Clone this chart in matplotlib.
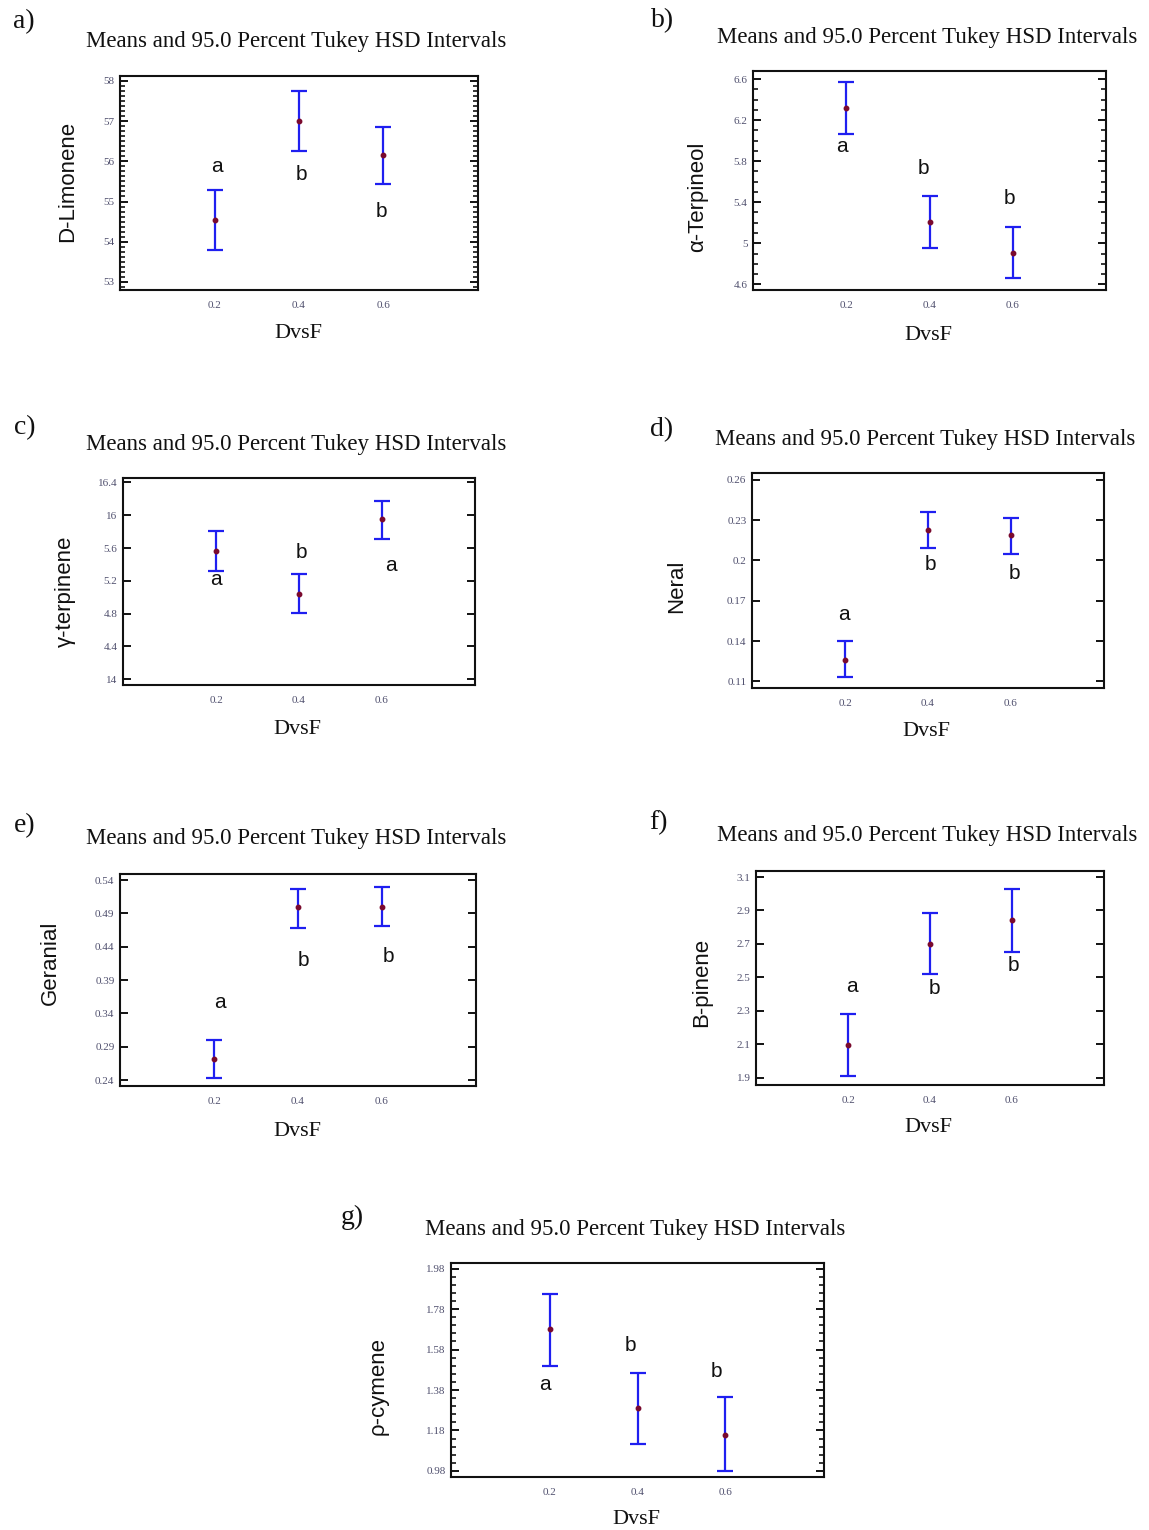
import numpy as np
import matplotlib
matplotlib.use("Agg")
import matplotlib.pyplot as plt
from matplotlib.ticker import FixedLocator, AutoMinorLocator

# ── Means and Tukey HSD interval limits per compound ─────────────────────
DVSF = [0.2, 0.4, 0.6]

limonene_mean = [54.54, 57.00, 56.16]
limonene_low  = [53.80, 56.26, 55.43]
limonene_high = [55.28, 57.74, 56.86]

terpineol_mean = [6.315, 5.205, 4.903]
terpineol_low  = [6.062, 4.951, 4.658]
terpineol_high = [6.574, 5.461, 5.162]

terpinene_mean = [15.56, 15.04, 15.955]
terpinene_low  = [15.317, 14.809, 15.711]
terpinene_high = [15.805, 15.289, 16.171]

neral_mean = [0.1259, 0.2226, 0.2186]
neral_low  = [0.1130, 0.2094, 0.2047]
neral_high = [0.1398, 0.2362, 0.2315]

geranial_mean = [0.271, 0.499, 0.4995]
geranial_low  = [0.2425, 0.468, 0.4705]
geranial_high = [0.300, 0.527, 0.529]

pinene_mean = [2.095, 2.702, 2.841]
pinene_low  = [1.910, 2.519, 2.649]
pinene_high = [2.278, 2.887, 3.030]

cymene_mean = [1.6825, 1.292, 1.160]
cymene_low  = [1.5006, 1.111, 0.980]
cymene_high = [1.856, 1.466, 1.347]

# Tukey grouping letters and where they sit (data coords)
limonene_letters  = [("a", 0.204, 55.87), ("b", 0.405, 55.68), ("b", 0.595, 54.76)]
terpineol_letters = [("a", 0.190, 5.94), ("b", 0.386, 5.73), ("b", 0.593, 5.44)]
terpinene_letters = [("a", 0.200, 15.22), ("b", 0.405, 15.54), ("a", 0.621, 15.39)]
neral_letters     = [("a", 0.196, 0.160), ("b", 0.407, 0.1973), ("b", 0.608, 0.190)]
geranial_letters  = [("a", 0.213, 0.356), ("b", 0.414, 0.420), ("b", 0.615, 0.426)]
pinene_letters    = [("a", 0.210, 2.443), ("b", 0.410, 2.434), ("b", 0.604, 2.573)]
cymene_letters    = [("a", 0.189, 1.408), ("b", 0.385, 1.600), ("b", 0.580, 1.471)]

# y tick values and their printed labels
limonene_ticks  = [53, 54, 55, 56, 57, 58]
terpineol_ticks = [4.6, 5.0, 5.4, 5.8, 6.2, 6.6]
terpinene_ticks = [14.0, 14.4, 14.8, 15.2, 15.6, 16.0, 16.4]
terpinene_tick_labels = ["14", "4.4", "4.8", "5.2", "5.6", "16", "16.4"]
neral_ticks     = [0.11, 0.14, 0.17, 0.20, 0.23, 0.26]
geranial_ticks  = [0.24, 0.29, 0.34, 0.39, 0.44, 0.49, 0.54]
pinene_ticks    = [1.9, 2.1, 2.3, 2.5, 2.7, 2.9, 3.1]
cymene_ticks    = [0.98, 1.18, 1.38, 1.58, 1.78, 1.98]

TITLE = "Means and 95.0 Percent Tukey HSD Intervals"

W, H = 1149, 1530
fig = plt.figure(figsize=(W / 100, H / 100), dpi=100)
fig.patch.set_facecolor("white")

SERIF = "Liberation Serif"
SANS = "Liberation Sans"
BAR_COLOR = "#1f1ff0"
DOT_COLOR = "#7a0a2e"
TICK_COLOR = "#50506e"


def fx(x):
    return x / W


def fy(y):
    return 1 - y / H


# panel layout in pixels: box (L, R, T, B), ylim, ylabel anchor, title/label spots
panels = [
    dict(tag="a)", tag_xy=(24, 22), box=(120, 478, 76, 290), ylim=(52.80, 58.12),
         ylabel="D-Limonene", ylab_xy=(78, 181), title_xy=(296, 42), xlab_xy=(298, 333),
         mean=limonene_mean, low=limonene_low, high=limonene_high,
         letters=limonene_letters, ticks=limonene_ticks, labels=None, minor=8),
    dict(tag="b)", tag_xy=(663, 21), box=(753, 1106, 71, 290), ylim=(4.545, 6.678),
         ylabel="α-Terpineol", ylab_xy=(708, 197), title_xy=(927, 38), xlab_xy=(928, 335),
         mean=terpineol_mean, low=terpineol_low, high=terpineol_high,
         letters=terpineol_letters, ticks=terpineol_ticks, labels=["4.6", "5", "5.4", "5.8", "6.2", "6.6"],
         minor=4),
    dict(tag="c)", tag_xy=(25, 428), box=(123, 475, 478, 685), ylim=(13.93, 16.454),
         ylabel="γ-terpinene", ylab_xy=(76, 591), title_xy=(296, 444), xlab_xy=(297, 729),
         mean=terpinene_mean, low=terpinene_low, high=terpinene_high,
         letters=terpinene_letters, ticks=terpinene_ticks, labels=terpinene_tick_labels, minor=None),
    dict(tag="d)", tag_xy=(662, 430), box=(752, 1104, 473, 688), ylim=(0.1051, 0.265),
         ylabel="Neral", ylab_xy=(687, 586), title_xy=(925, 440), xlab_xy=(926, 731),
         mean=neral_mean, low=neral_low, high=neral_high,
         letters=neral_letters, ticks=neral_ticks, labels=["0.11", "0.14", "0.17", "0.2", "0.23", "0.26"],
         minor=None),
    dict(tag="e)", tag_xy=(25, 826), box=(120, 476, 874, 1086), ylim=(0.231, 0.549),
         ylabel="Geranial", ylab_xy=(61, 963), title_xy=(296, 838), xlab_xy=(297, 1131),
         mean=geranial_mean, low=geranial_low, high=geranial_high,
         letters=geranial_letters, ticks=geranial_ticks, labels=None, minor=None),
    dict(tag="f)", tag_xy=(658, 823), box=(756, 1104, 871, 1085), ylim=(1.856, 3.136),
         ylabel="B-pinene", ylab_xy=(712, 982), title_xy=(927, 836), xlab_xy=(928, 1127),
         mean=pinene_mean, low=pinene_low, high=pinene_high,
         letters=pinene_letters, ticks=pinene_ticks, labels=None, minor=None),
    dict(tag="g)", tag_xy=(352, 1217), box=(451, 824, 1263, 1477), ylim=(0.950, 2.008),
         ylabel="ρ-cymene", ylab_xy=(389, 1386), title_xy=(635, 1230), xlab_xy=(636, 1519),
         mean=cymene_mean, low=cymene_low, high=cymene_high,
         letters=cymene_letters, ticks=cymene_ticks, labels=None, minor=5),
]

for p in panels:
    L, R, T, B = p["box"]
    ax = fig.add_axes([fx(L), fy(B), (R - L) / W, (B - T) / H])

    mean = np.array(p["mean"])
    yerr = np.vstack([mean - np.array(p["low"]), np.array(p["high"]) - mean])
    ax.errorbar(DVSF, mean, yerr=yerr, fmt="none", ecolor=BAR_COLOR,
                elinewidth=1.6, capsize=5.5, capthick=1.6, zorder=2)
    ax.plot(DVSF, mean, "o", color=DOT_COLOR, markersize=3.2, zorder=3)

    for txt, x, y in p["letters"]:
        ax.text(x, y, txt, ha="center", va="center", fontsize=15,
                family=SANS, color="#111111")

    ax.set_xlim(-0.025, 0.825)
    ax.set_ylim(*p["ylim"])
    ax.set_xticks(DVSF)
    ax.set_xticklabels(["0.2", "0.4", "0.6"])
    ax.yaxis.set_major_locator(FixedLocator(p["ticks"]))
    if p["labels"] is not None:
        ax.set_yticklabels(p["labels"])
    else:
        ax.set_yticklabels([f"{t:g}" for t in p["ticks"]])
    if p["minor"]:
        ax.yaxis.set_minor_locator(AutoMinorLocator(p["minor"]))

    for spine in ax.spines.values():
        spine.set_linewidth(1.5)
        spine.set_color("#111111")
    ax.tick_params(axis="x", length=0, pad=8, labelsize=8, labelcolor=TICK_COLOR)
    ax.tick_params(axis="y", which="major", direction="in", length=6, width=1.3,
                   left=True, right=True, pad=4, labelsize=8, labelcolor=TICK_COLOR)
    ax.tick_params(axis="y", which="minor", direction="in", length=3.5, width=1.1,
                   left=True, right=True)
    for lab in ax.get_xticklabels() + ax.get_yticklabels():
        lab.set_family(SERIF)

    # y label, anchored at its right edge
    ax.set_ylabel(p["ylabel"], fontsize=16, family=SANS, color="#111111")
    ax.yaxis.set_label_coords((p["ylab_xy"][0] - L) / (R - L),
                              (B - p["ylab_xy"][1]) / (B - T))

    fig.text(fx(p["xlab_xy"][0]), fy(p["xlab_xy"][1]), "DvsF", ha="center", va="center",
             fontsize=16, family=SERIF, color="#111111")
    fig.text(fx(p["title_xy"][0]), fy(p["title_xy"][1]), TITLE, ha="center", va="center",
             fontsize=16.5, family=SERIF, color="#111111")
    fig.text(fx(p["tag_xy"][0]), fy(p["tag_xy"][1]), p["tag"], ha="center", va="center",
             fontsize=20, family=SERIF, color="#111111")

fig.savefig("out.png", dpi=100, facecolor="white")
